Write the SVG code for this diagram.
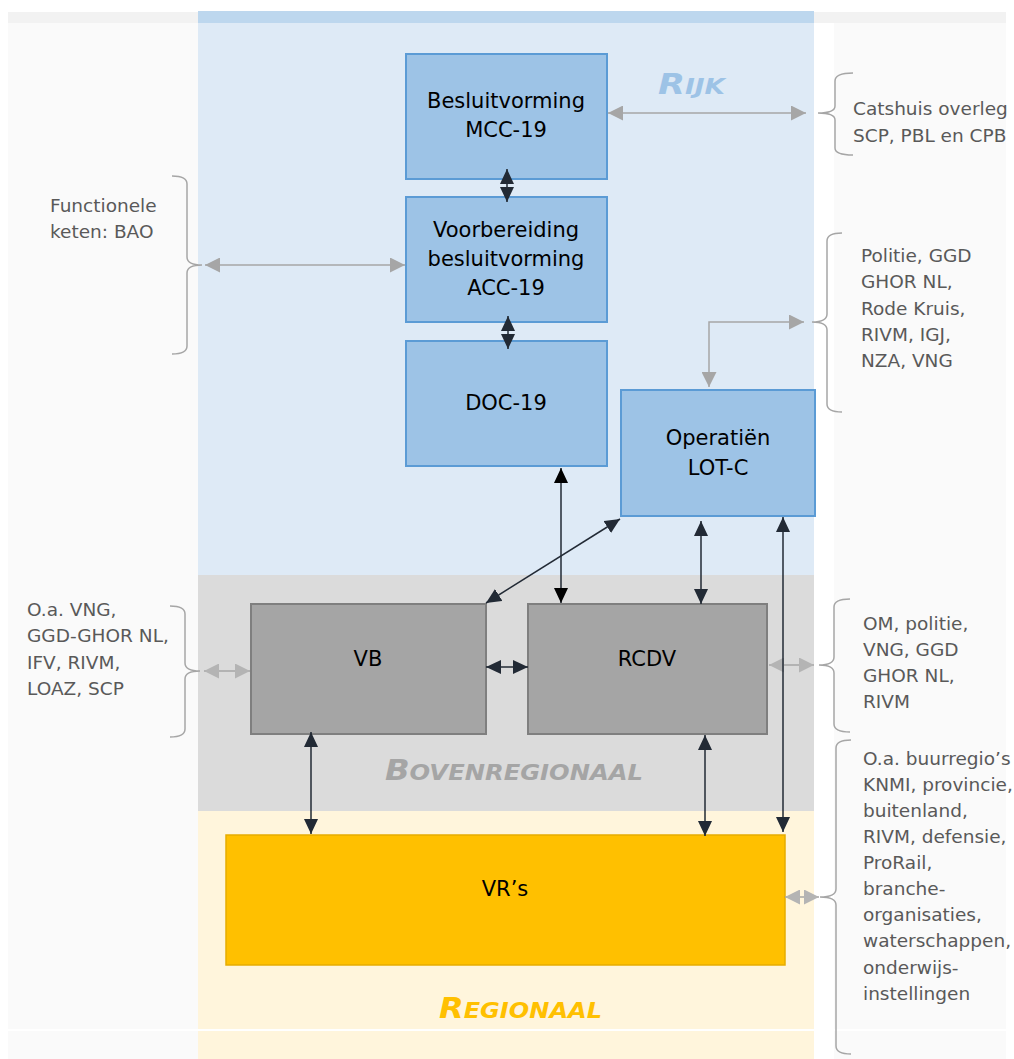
<svg xmlns="http://www.w3.org/2000/svg" width="1014" height="1059" viewBox="0 0 1014 1059">
<style>
.nt{font-family:"DejaVu Sans",Verdana,sans-serif;font-size:21px;fill:#000;text-anchor:middle}
.st{font-family:"DejaVu Sans",Verdana,sans-serif;font-size:18.5px;fill:#595959}
.bt{font-family:"DejaVu Sans",Verdana,sans-serif;font-weight:bold;font-style:italic}
.blue{fill:#9dc3e6;stroke:#5b9bd5;stroke-width:2}
.grey{fill:#a5a5a5;stroke:#7f7f7f;stroke-width:2}
.brace{fill:none;stroke:#a6a6a6;stroke-width:1.5}
.cd{stroke:#222a35;stroke-width:1.5;fill:none}
.cg{stroke:#a6a6a6;stroke-width:1.5;fill:none}
</style>
<defs>
<marker id="ad" viewBox="0 0 15 14" refX="15" refY="7" markerWidth="15" markerHeight="14" markerUnits="userSpaceOnUse" orient="auto-start-reverse"><path d="M0,0 L15,7 L0,14 z" fill="#222a35"/></marker>
<marker id="ak" viewBox="0 0 15 14" refX="15" refY="7" markerWidth="15" markerHeight="14" markerUnits="userSpaceOnUse" orient="auto-start-reverse"><path d="M0,0 L15,7 L0,14 z" fill="#000"/></marker>
<marker id="ag" viewBox="0 0 15 15" refX="15" refY="7.5" markerWidth="15" markerHeight="15" markerUnits="userSpaceOnUse" orient="auto-start-reverse"><path d="M0,0 L15,7.5 L0,15 z" fill="#a6a6a6"/></marker>
<marker id="al" viewBox="0 0 15 15" refX="15" refY="7.5" markerWidth="15" markerHeight="15" markerUnits="userSpaceOnUse" orient="auto-start-reverse"><path d="M0,0 L15,7.5 L0,15 z" fill="#b4b4b4"/></marker>
</defs>
<rect width="1014" height="1059" fill="#fff"/>
<!-- background panels -->
<rect x="8" y="12" width="998" height="11" fill="#f2f2f2"/>
<rect x="8" y="23" width="190" height="1036" fill="#fafafa"/>
<rect x="834" y="23" width="172" height="1036" fill="#fafafa"/>
<rect x="198" y="11" width="616" height="12" fill="#bdd7ee"/>
<rect x="198" y="23" width="616" height="552" fill="#deeaf6"/>
<rect x="198" y="575" width="616" height="236" fill="#dbdbdb"/>
<rect x="198" y="811" width="616" height="248" fill="#fff5dc"/>
<rect x="0" y="1029" width="1014" height="2" fill="#fff"/>
<!-- band titles -->
<text class="bt" x="658" y="94" fill="#9dc3e6" textLength="67" lengthAdjust="spacingAndGlyphs"><tspan font-size="28">R</tspan><tspan font-size="21">IJK</tspan></text>
<text class="bt" x="385" y="780" fill="#a5a5a5" textLength="258" lengthAdjust="spacingAndGlyphs"><tspan font-size="28">B</tspan><tspan font-size="21">OVENREGIONAAL</tspan></text>
<text class="bt" x="439" y="1018" fill="#ffc000" textLength="163" lengthAdjust="spacingAndGlyphs"><tspan font-size="28">R</tspan><tspan font-size="21">EGIONAAL</tspan></text>
<!-- braces and side labels -->
<g id="side-catshuis">
<path class="brace" d="M853,73 Q835,73 835,81 L835,106 Q835,113 818,113 Q835,113 835,120 L835,148 Q835,155 853,155"/>
<text class="st" x="853" y="115">Catshuis overleg</text>
<text class="st" x="853" y="142">SCP, PBL en CPB</text>
</g>
<g id="side-politie">
<path class="brace" d="M842,233 Q827,233 827,241 L827,314 Q827,322 812,322 Q827,322 827,330 L827,404 Q827,412 842,412"/>
<text class="st" x="861" y="262">Politie, GGD</text>
<text class="st" x="861" y="288">GHOR NL,</text>
<text class="st" x="861" y="315">Rode Kruis,</text>
<text class="st" x="861" y="341">RIVM, IGJ,</text>
<text class="st" x="861" y="367">NZA, VNG</text>
</g>
<g id="side-functionele">
<path class="brace" d="M172,176 Q187,176 187,184 L187,257 Q187,265 202,265 Q187,265 187,273 L187,346 Q187,354 172,354"/>
<text class="st" x="50" y="212">Functionele</text>
<text class="st" x="50" y="238">keten: BAO</text>
</g>
<g id="side-oa-vng">
<path class="brace" d="M170,606 Q185,606 185,614 L185,663 Q185,671 200,671 Q185,671 185,679 L185,729 Q185,737 170,737"/>
<text class="st" x="27" y="616">O.a. VNG,</text>
<text class="st" x="27" y="642">GGD-GHOR NL,</text>
<text class="st" x="27" y="669">IFV, RIVM,</text>
<text class="st" x="27" y="695">LOAZ, SCP</text>
</g>
<g id="side-om">
<path class="brace" d="M850,599 Q834,599 834,607 L834,657 Q834,665 819,665 Q834,665 834,673 L834,724 Q834,732 850,732"/>
<text class="st" x="863" y="630">OM, politie,</text>
<text class="st" x="863" y="656">VNG, GGD</text>
<text class="st" x="863" y="682">GHOR NL,</text>
<text class="st" x="863" y="708">RIVM</text>
</g>
<g id="side-buurregio">
<path class="brace" d="M851,740 Q836,740 836,748 L836,889 Q836,897 820,897 Q836,897 836,905 L836,1046 Q836,1054 851,1054"/>
<text class="st" x="863" y="765">O.a. buurregio’s</text>
<text class="st" x="863" y="791">KNMI, provincie,</text>
<text class="st" x="863" y="817">buitenland,</text>
<text class="st" x="863" y="843">RIVM, defensie,</text>
<text class="st" x="863" y="869">ProRail,</text>
<text class="st" x="863" y="895">branche-</text>
<text class="st" x="863" y="921">organisaties,</text>
<text class="st" x="863" y="947">waterschappen,</text>
<text class="st" x="863" y="974">onderwijs-</text>
<text class="st" x="863" y="1000">instellingen</text>
</g>
<!-- nodes -->
<g id="mcc">
<rect class="blue" x="406" y="54" width="201" height="125"/>
<text class="nt" x="506" y="108">Besluitvorming</text>
<text class="nt" x="506" y="137">MCC-19</text>
</g>
<g id="acc">
<rect class="blue" x="406" y="197" width="201" height="125"/>
<text class="nt" x="506" y="237">Voorbereiding</text>
<text class="nt" x="506" y="266">besluitvorming</text>
<text class="nt" x="506" y="295">ACC-19</text>
</g>
<g id="doc">
<rect class="blue" x="406" y="341" width="201" height="125"/>
<text class="nt" x="506" y="410">DOC-19</text>
</g>
<g id="lotc">
<rect class="blue" x="621" y="390" width="194" height="126"/>
<text class="nt" x="718" y="445">Operatiën</text>
<text class="nt" x="718" y="475">LOT-C</text>
</g>
<g id="vb">
<rect class="grey" x="251" y="604" width="235" height="130"/>
<text class="nt" x="368" y="666">VB</text>
</g>
<g id="rcdv">
<rect class="grey" x="528" y="604" width="239" height="130"/>
<text class="nt" x="647" y="666">RCDV</text>
</g>
<g id="vrs">
<rect x="226" y="835" width="559" height="130" fill="#ffc000" stroke="#e6ac00" stroke-width="1.5"/>
<text class="nt" x="505" y="896">VR’s</text>
</g>
<!-- connectors -->
<g id="connectors">
<line class="cg" x1="608" y1="113" x2="806" y2="113" marker-start="url(#ag)" marker-end="url(#ag)"/>
<line class="cg" x1="205" y1="265" x2="405" y2="265" marker-start="url(#ag)" marker-end="url(#ag)"/>
<path class="cg" d="M709,387 L709,322 L804,322" marker-start="url(#ag)" marker-end="url(#ag)"/>
<line class="cg" stroke="#b4b4b4" x1="204" y1="671" x2="250" y2="671" marker-start="url(#al)" marker-end="url(#al)"/>
<line class="cg" stroke="#b4b4b4" x1="769" y1="665" x2="814" y2="665" marker-start="url(#al)" marker-end="url(#al)"/>
<line class="cg" stroke="#b4b4b4" x1="785" y1="897" x2="819" y2="897" marker-start="url(#al)" marker-end="url(#al)"/>
<line class="cd" x1="507" y1="169" x2="507" y2="202" marker-start="url(#ad)" marker-end="url(#ad)"/>
<line class="cd" x1="508" y1="316" x2="508" y2="349" marker-start="url(#ad)" marker-end="url(#ad)"/>
<line class="cd" stroke="#000" x1="561" y1="468" x2="561" y2="603" marker-start="url(#ak)" marker-end="url(#ak)"/>
<line class="cd" x1="620" y1="519" x2="486" y2="603" marker-start="url(#ad)" marker-end="url(#ad)"/>
<line class="cd" stroke="#44546a" x1="701" y1="521" x2="701" y2="604" marker-start="url(#ad)" marker-end="url(#ad)"/>
<line class="cd" stroke="#44546a" x1="783" y1="517" x2="783" y2="832" marker-start="url(#ad)" marker-end="url(#ad)"/>
<line class="cd" x1="486" y1="667" x2="528" y2="667" marker-start="url(#ad)" marker-end="url(#ad)"/>
<line class="cd" x1="311" y1="732" x2="311" y2="834" marker-start="url(#ad)" marker-end="url(#ad)"/>
<line class="cd" x1="705" y1="735" x2="705" y2="836" marker-start="url(#ad)" marker-end="url(#ad)"/>
</g>
</svg>
